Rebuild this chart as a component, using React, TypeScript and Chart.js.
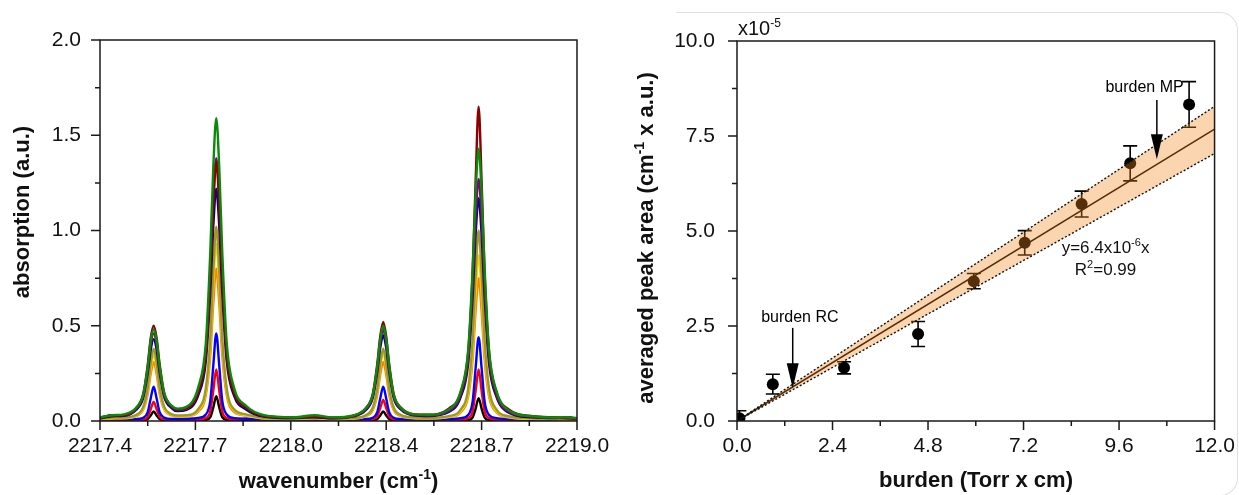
import React, { useEffect, useRef } from "react";
import { Chart, registerables } from "chart.js";

Chart.register(...registerables);

const FONT = '"Liberation Sans", Arial, Helvetica, sans-serif';

// ---------- Left panel: absorption spectra ----------
const wavenumbers = [
  2217.40, 2217.44, 2217.48, 2217.52, 2217.545, 2217.56, 2217.57, 2217.58, 2217.59, 2217.60,
  2217.615, 2217.64, 2217.66, 2217.69, 2217.73, 2217.755, 2217.77, 2217.78, 2217.79, 2217.80,
  2217.81, 2217.825, 2217.85, 2217.89, 2217.95, 2218.05, 2218.12, 2218.18, 2218.25, 2218.29,
  2218.315, 2218.33, 2218.34, 2218.35, 2218.36, 2218.37, 2218.385, 2218.41, 2218.45, 2218.50,
  2218.57, 2218.61, 2218.635, 2218.65, 2218.66, 2218.67, 2218.68, 2218.69, 2218.705, 2218.73,
  2218.77, 2218.85, 2218.93, 2218.97, 2219.00,
];

const absGreen = [
  0.02, 0.03, 0.035, 0.067, 0.14, 0.285, 0.42, 0.48, 0.422, 0.29,
  0.148, 0.081, 0.065, 0.074, 0.179, 0.41, 0.889, 1.33, 1.59, 1.33,
  0.889, 0.41, 0.173, 0.08, 0.031, 0.02, 0.03, 0.019, 0.029, 0.064,
  0.139, 0.289, 0.429, 0.50, 0.429, 0.289, 0.139, 0.068, 0.036, 0.033,
  0.06, 0.157, 0.372, 0.80, 1.20, 1.43, 1.20, 0.80, 0.372, 0.157,
  0.057, 0.025, 0.018, 0.02, 0.015,
];
const absDarkRed = [
  0.016, 0.03, 0.031, 0.066, 0.142, 0.292, 0.434, 0.50, 0.435, 0.298,
  0.149, 0.078, 0.06, 0.066, 0.154, 0.352, 0.76, 1.141, 1.36, 1.141,
  0.76, 0.352, 0.148, 0.07, 0.027, 0.018, 0.025, 0.017, 0.028, 0.064,
  0.142, 0.298, 0.444, 0.52, 0.444, 0.298, 0.142, 0.069, 0.036, 0.033,
  0.065, 0.15, 0.36, 0.78, 1.26, 1.65, 1.26, 0.78, 0.36, 0.15,
  0.062, 0.025, 0.019, 0.015, 0.012,
];
const absPurple = [
  0.016, 0.03, 0.03, 0.062, 0.133, 0.27, 0.40, 0.46, 0.402, 0.276,
  0.139, 0.075, 0.058, 0.065, 0.156, 0.357, 0.771, 1.157, 1.38, 1.157,
  0.771, 0.357, 0.15, 0.07, 0.027, 0.018, 0.025, 0.016, 0.026, 0.06,
  0.132, 0.276, 0.41, 0.48, 0.41, 0.276, 0.132, 0.064, 0.032, 0.029,
  0.052, 0.139, 0.33, 0.71, 1.066, 1.27, 1.066, 0.71, 0.33, 0.139,
  0.05, 0.022, 0.017, 0.014, 0.012,
];
const absNavy = [
  0.013, 0.025, 0.027, 0.057, 0.122, 0.252, 0.373, 0.43, 0.374, 0.256,
  0.128, 0.068, 0.052, 0.058, 0.137, 0.315, 0.681, 1.023, 1.22, 1.023,
  0.681, 0.315, 0.132, 0.06, 0.023, 0.015, 0.02, 0.014, 0.024, 0.055,
  0.122, 0.258, 0.384, 0.45, 0.384, 0.258, 0.122, 0.059, 0.03, 0.026,
  0.047, 0.127, 0.303, 0.654, 0.981, 1.17, 0.981, 0.654, 0.303, 0.127,
  0.045, 0.019, 0.015, 0.02, 0.01,
];
const absOlive = [
  0.012, 0.018, 0.018, 0.031, 0.074, 0.173, 0.302, 0.38, 0.303, 0.175,
  0.077, 0.036, 0.029, 0.03, 0.064, 0.173, 0.438, 0.785, 1.02, 0.785,
  0.438, 0.173, 0.061, 0.035, 0.016, 0.012, 0.018, 0.012, 0.016, 0.029,
  0.071, 0.17, 0.299, 0.38, 0.299, 0.17, 0.071, 0.031, 0.019, 0.017,
  0.026, 0.06, 0.17, 0.43, 0.77, 1.00, 0.77, 0.43, 0.17, 0.06,
  0.025, 0.014, 0.012, 0.012, 0.01,
];
const absYellow = [
  0.009, 0.015, 0.015, 0.028, 0.067, 0.158, 0.277, 0.35, 0.278, 0.16,
  0.07, 0.032, 0.025, 0.026, 0.057, 0.157, 0.399, 0.715, 0.93, 0.715,
  0.399, 0.157, 0.055, 0.03, 0.014, 0.01, 0.015, 0.009, 0.013, 0.026,
  0.066, 0.159, 0.282, 0.36, 0.282, 0.159, 0.066, 0.028, 0.016, 0.014,
  0.022, 0.052, 0.147, 0.373, 0.669, 0.87, 0.669, 0.373, 0.147, 0.052,
  0.021, 0.011, 0.01, 0.009, 0.008,
];
const absOrange = [
  0.009, 0.012, 0.014, 0.025, 0.06, 0.14, 0.246, 0.31, 0.247, 0.142,
  0.063, 0.029, 0.023, 0.024, 0.05, 0.136, 0.344, 0.616, 0.80, 0.616,
  0.344, 0.136, 0.048, 0.028, 0.013, 0.01, 0.013, 0.009, 0.013, 0.024,
  0.058, 0.138, 0.244, 0.31, 0.244, 0.138, 0.058, 0.025, 0.015, 0.013,
  0.02, 0.046, 0.128, 0.323, 0.578, 0.75, 0.578, 0.323, 0.128, 0.046,
  0.019, 0.011, 0.0095, 0.009, 0.008,
];
const absBlue = [
  0.006, 0.008, 0.008, 0.01, 0.017, 0.046, 0.118, 0.18, 0.118, 0.046,
  0.018, 0.011, 0.011, 0.012, 0.016, 0.034, 0.107, 0.291, 0.46, 0.291,
  0.107, 0.034, 0.015, 0.012, 0.007, 0.006, 0.008, 0.006, 0.008, 0.01,
  0.017, 0.046, 0.118, 0.18, 0.118, 0.046, 0.017, 0.01, 0.008, 0.006,
  0.01, 0.015, 0.032, 0.103, 0.279, 0.44, 0.279, 0.103, 0.032, 0.015,
  0.01, 0.006, 0.008, 0.018, 0.008,
];
const absRed = [
  0.005, 0.007, 0.005, 0.006, 0.009, 0.022, 0.062, 0.10, 0.062, 0.022,
  0.009, 0.006, 0.007, 0.006, 0.008, 0.016, 0.051, 0.159, 0.27, 0.159,
  0.051, 0.016, 0.008, 0.012, 0.005, 0.005, 0.007, 0.005, 0.005, 0.006,
  0.009, 0.024, 0.068, 0.11, 0.068, 0.024, 0.009, 0.006, 0.005, 0.005,
  0.005, 0.008, 0.016, 0.051, 0.159, 0.27, 0.159, 0.051, 0.016, 0.008,
  0.005, 0.005, 0.006, 0.007, 0.005,
];
const absBlack = [
  0.003, 0.003, 0.003, 0.003, 0.004, 0.01, 0.029, 0.05, 0.029, 0.01,
  0.004, 0.003, 0.003, 0.003, 0.003, 0.006, 0.02, 0.071, 0.13, 0.071,
  0.02, 0.006, 0.003, 0.003, 0.003, 0.003, 0.004, 0.003, 0.003, 0.003,
  0.004, 0.01, 0.029, 0.05, 0.029, 0.01, 0.004, 0.003, 0.003, 0.003,
  0.003, 0.003, 0.005, 0.019, 0.065, 0.12, 0.065, 0.019, 0.005, 0.003,
  0.003, 0.003, 0.003, 0.004, 0.003,
];

const spectraXTicks = [2217.4, 2217.72, 2218.04, 2218.36, 2218.68, 2219.0];
const spectraXTickLabels = ["2217.4", "2217.7", "2218.0", "2218.4", "2218.7", "2219.0"];
const spectraXMinor = [2217.56, 2217.88, 2218.2, 2218.52, 2218.84];
const spectraYTicks = [0, 0.5, 1.0, 1.5, 2.0];
const spectraYTickLabels = ["0.0", "0.5", "1.0", "1.5", "2.0"];
const spectraYMinor = [0.25, 0.75, 1.25, 1.75];

// ---------- Right panel: peak area vs burden ----------
const burden = [0.06, 0.90, 2.69, 4.55, 5.95, 7.23, 8.66, 9.88, 11.36];
const peakArea = [0.07, 0.97, 1.40, 2.29, 3.68, 4.69, 5.71, 6.78, 8.33];
const peakAreaErr = [0.20, 0.26, 0.16, 0.33, 0.20, 0.32, 0.34, 0.46, 0.60];
const fitX = [0, 12];
const fitY = [0, 7.68];
const bandUpperY = [0, 8.28];
const bandLowerY = [0, 7.04];

const burdenTicks = [0, 2.4, 4.8, 7.2, 9.6, 12.0];
const burdenTickLabels = ["0.0", "2.4", "4.8", "7.2", "9.6", "12.0"];
const burdenMinor = [1.2, 3.6, 6.0, 8.4, 10.8];
const areaTicks = [0, 2.5, 5.0, 7.5, 10.0];
const areaTickLabels = ["0.0", "2.5", "5.0", "7.5", "10.0"];
const areaMinor = [1.25, 3.75, 6.25, 8.75];

const arrowLabels = ["burden RC", "burden MP"];
const arrowX = [1.40, 10.55];
const arrowFromY = [2.45, 8.45];
const arrowToY = [0.86, 6.89];
const arrowLabelX = [1.58, 10.24];
const arrowLabelY = [2.71, 8.78];
const fitTextX = 9.26;
const fitTextY = [4.55, 3.95];

type Part = { t: string; sup?: boolean };

function drawRich(
  ctx: CanvasRenderingContext2D,
  parts: Part[],
  x: number,
  y: number,
  size: number,
  weight: string,
  opt: { rotate?: boolean; align?: "left" | "center" } = {}
) {
  const supSize = Math.round(size * 0.62);
  const font = (p: Part) => `${weight} ${p.sup ? supSize : size}px ${FONT}`;
  let total = 0;
  for (const p of parts) {
    ctx.font = font(p);
    total += ctx.measureText(p.t).width;
  }
  ctx.save();
  ctx.translate(x, y);
  if (opt.rotate) ctx.rotate(-Math.PI / 2);
  ctx.textAlign = "left";
  ctx.textBaseline = "alphabetic";
  let cx = opt.align === "left" ? 0 : -total / 2;
  const base = size * 0.27;
  for (const p of parts) {
    ctx.font = font(p);
    ctx.fillText(p.t, cx, p.sup ? base - size * 0.42 : base);
    cx += ctx.measureText(p.t).width;
  }
  ctx.restore();
}

function axisDecor(o: {
  xMajor: number[];
  xMinor: number[];
  yMajor: number[];
  yMinor: number[];
  xTitle: Part[];
  yTitle: Part[];
  xTitlePos: [number, number];
  yTitlePos: [number, number];
}) {
  return {
    id: "axisDecor",
    afterDatasetsDraw(chart: any) {
      const { ctx, chartArea: a } = chart;
      const xs = chart.scales.x;
      const ys = chart.scales.y;
      ctx.save();
      ctx.strokeStyle = "#1a1a1a";
      ctx.lineWidth = 1.5;
      ctx.strokeRect(a.left, a.top, a.right - a.left, a.bottom - a.top);
      ctx.beginPath();
      for (const v of o.xMajor) {
        const p = xs.getPixelForValue(v);
        ctx.moveTo(p, a.bottom);
        ctx.lineTo(p, a.bottom + 9);
      }
      for (const v of o.xMinor) {
        const p = xs.getPixelForValue(v);
        ctx.moveTo(p, a.bottom);
        ctx.lineTo(p, a.bottom + 5);
      }
      for (const v of o.yMajor) {
        const p = ys.getPixelForValue(v);
        ctx.moveTo(a.left, p);
        ctx.lineTo(a.left - 9, p);
      }
      for (const v of o.yMinor) {
        const p = ys.getPixelForValue(v);
        ctx.moveTo(a.left, p);
        ctx.lineTo(a.left - 5, p);
      }
      ctx.stroke();
      ctx.fillStyle = "#111";
      drawRich(ctx, o.xTitle, o.xTitlePos[0], o.xTitlePos[1], 22, "bold");
      drawRich(ctx, o.yTitle, o.yTitlePos[0], o.yTitlePos[1], 22, "bold", { rotate: true });
      ctx.restore();
    },
  };
}

function fixedTicks(values: number[], labels: string[], padding: number, size: number) {
  return {
    afterBuildTicks: (s: any) => {
      s.ticks = values.map((v) => ({ value: v }));
    },
    ticks: {
      autoSkip: false,
      maxRotation: 0,
      minRotation: 0,
      padding,
      color: "#111",
      font: { family: FONT, size },
      callback: (_v: any, i: number) => labels[i],
    },
    grid: { display: false, drawTicks: true, tickLength: 9 },
    border: { display: false },
  };
}

function spectraConfig(): any {
  const series = [
    { data: absGreen, color: "#0a8a0a" },
    { data: absDarkRed, color: "#8b0000" },
    { data: absPurple, color: "#800080" },
    { data: absNavy, color: "#000080" },
    { data: absOlive, color: "#9a9a26" },
    { data: absYellow, color: "#f2d800" },
    { data: absOrange, color: "#ff8000" },
    { data: absBlue, color: "#0000ff" },
    { data: absRed, color: "#ff0000" },
    { data: absBlack, color: "#000000" },
  ];
  return {
    type: "line",
    data: {
      datasets: series.map((s, i) => ({
        data: wavenumbers.map((x, j) => ({ x, y: s.data[j] })),
        borderColor: s.color,
        borderWidth: 2.4,
        pointRadius: 0,
        fill: false,
        cubicInterpolationMode: "monotone",
        order: i,
      })),
    },
    options: {
      animation: false,
      responsive: false,
      devicePixelRatio: 1,
      events: [],
      layout: { autoPadding: false, padding: { left: 0, top: 40, right: 43, bottom: 0 } },
      plugins: { legend: { display: false }, tooltip: { enabled: false } },
      scales: {
        x: {
          type: "linear",
          min: 2217.4,
          max: 2219.0,
          ...fixedTicks(spectraXTicks, spectraXTickLabels, 4, 21),
          afterFit: (s: any) => {
            s.height = 74;
          },
        },
        y: {
          type: "linear",
          min: 0,
          max: 2.0,
          ...fixedTicks(spectraYTicks, spectraYTickLabels, 10, 21),
          afterFit: (s: any) => {
            s.width = 100;
          },
        },
      },
    },
    plugins: [
      axisDecor({
        xMajor: spectraXTicks,
        xMinor: spectraXMinor,
        yMajor: spectraYTicks,
        yMinor: spectraYMinor,
        xTitle: [{ t: "wavenumber (cm" }, { t: "-1", sup: true }, { t: ")" }],
        yTitle: [{ t: "absorption (a.u.)" }],
        xTitlePos: [338.5, 482],
        yTitlePos: [23, 212],
      }),
    ],
  };
}

function burdenConfig(): any {
  const pts = (xs: number[], ys: number[]) => xs.map((x, i) => ({ x, y: ys[i] }));
  const extras = {
    id: "burdenExtras",
    beforeDatasetsDraw(chart: any) {
      const { ctx, chartArea: a } = chart;
      const xs = chart.scales.x;
      const ys = chart.scales.y;
      ctx.save();
      ctx.beginPath();
      ctx.rect(a.left, a.top, a.right - a.left, a.bottom - a.top);
      ctx.clip();
      ctx.strokeStyle = "#000";
      ctx.lineWidth = 1.6;
      burden.forEach((b, i) => {
        const px = xs.getPixelForValue(b);
        const top = ys.getPixelForValue(peakArea[i] + peakAreaErr[i]);
        const bot = ys.getPixelForValue(peakArea[i] - peakAreaErr[i]);
        ctx.beginPath();
        ctx.moveTo(px, top);
        ctx.lineTo(px, bot);
        ctx.moveTo(px - 7, top);
        ctx.lineTo(px + 7, top);
        ctx.moveTo(px - 7, bot);
        ctx.lineTo(px + 7, bot);
        ctx.stroke();
      });
      ctx.restore();
    },
    afterDatasetsDraw(chart: any) {
      const { ctx, chartArea: a } = chart;
      const xs = chart.scales.x;
      const ys = chart.scales.y;
      ctx.save();
      ctx.strokeStyle = "#000";
      ctx.fillStyle = "#000";
      arrowLabels.forEach((lab, i) => {
        const px = xs.getPixelForValue(arrowX[i]);
        const y0 = ys.getPixelForValue(arrowFromY[i]);
        const y1 = ys.getPixelForValue(arrowToY[i]);
        ctx.lineWidth = 1.5;
        ctx.beginPath();
        ctx.moveTo(px, y0);
        ctx.lineTo(px, y1 - 20);
        ctx.stroke();
        ctx.beginPath();
        ctx.moveTo(px - 6, y1 - 25);
        ctx.lineTo(px + 6, y1 - 25);
        ctx.lineTo(px, y1);
        ctx.closePath();
        ctx.fill();
        ctx.font = `16px ${FONT}`;
        ctx.textAlign = "center";
        ctx.textBaseline = "middle";
        ctx.fillText(lab, xs.getPixelForValue(arrowLabelX[i]), ys.getPixelForValue(arrowLabelY[i]));
      });
      ctx.fillStyle = "#111";
      drawRich(
        ctx,
        [{ t: "y=6.4x10" }, { t: "-6", sup: true }, { t: "x" }],
        xs.getPixelForValue(fitTextX),
        ys.getPixelForValue(fitTextY[0]),
        17,
        "normal"
      );
      drawRich(
        ctx,
        [{ t: "R" }, { t: "2", sup: true }, { t: "=0.99" }],
        xs.getPixelForValue(fitTextX),
        ys.getPixelForValue(fitTextY[1]),
        17,
        "normal"
      );
      drawRich(ctx, [{ t: "x10" }, { t: "-5", sup: true }], a.left + 1, 30, 20, "normal", {
        align: "left",
      });
      ctx.restore();
    },
  };
  const bandFill = "rgba(241,135,27,0.35)";
  return {
    type: "line",
    data: {
      datasets: [
        {
          data: pts(fitX, bandUpperY),
          borderColor: "rgba(0,0,0,0)",
          borderWidth: 1,
          pointRadius: 0,
          fill: "+1",
          backgroundColor: bandFill,
          order: 2,
        },
        {
          data: pts(fitX, bandLowerY),
          borderColor: "rgba(0,0,0,0)",
          borderWidth: 1,
          pointRadius: 0,
          fill: false,
          order: 2,
        },
        {
          data: pts(fitX, fitY),
          borderColor: "#000",
          borderWidth: 1.6,
          pointRadius: 0,
          fill: false,
          order: 3,
        },
        {
          data: pts(burden, peakArea),
          showLine: false,
          pointRadius: 6,
          pointBackgroundColor: "#000",
          pointBorderColor: "#000",
          pointBorderWidth: 0,
          order: 4,
        },
        {
          data: pts(fitX, bandUpperY),
          borderColor: "#111",
          borderWidth: 1.4,
          borderDash: [2, 2],
          pointRadius: 0,
          fill: false,
          order: 0,
        },
        {
          data: pts(fitX, bandLowerY),
          borderColor: "#111",
          borderWidth: 1.4,
          borderDash: [2, 2],
          pointRadius: 0,
          fill: false,
          order: 1,
        },
      ],
    },
    options: {
      animation: false,
      responsive: false,
      devicePixelRatio: 1,
      events: [],
      layout: { autoPadding: false, padding: { left: 0, top: 41, right: 24, bottom: 0 } },
      plugins: { legend: { display: false }, tooltip: { enabled: false } },
      scales: {
        x: {
          type: "linear",
          min: 0,
          max: 12,
          ...fixedTicks(burdenTicks, burdenTickLabels, 4, 21),
          afterFit: (s: any) => {
            s.height = 74;
          },
        },
        y: {
          type: "linear",
          min: 0,
          max: 10,
          ...fixedTicks(areaTicks, areaTickLabels, 13, 21),
          afterFit: (s: any) => {
            s.width = 117;
          },
        },
      },
    },
    plugins: [
      extras,
      axisDecor({
        xMajor: burdenTicks,
        xMinor: burdenMinor,
        yMajor: areaTicks,
        yMinor: areaMinor,
        xTitle: [{ t: "burden (Torr x cm)" }],
        yTitle: [{ t: "averaged peak area (cm" }, { t: "-1", sup: true }, { t: " x a.u.)" }],
        xTitlePos: [356, 481],
        yTitlePos: [27, 238],
      }),
    ],
  };
}

export default function App() {
  const leftRef = useRef<HTMLCanvasElement>(null);
  const rightRef = useRef<HTMLCanvasElement>(null);
  useEffect(() => {
    const left = new Chart(leftRef.current as HTMLCanvasElement, spectraConfig());
    const right = new Chart(rightRef.current as HTMLCanvasElement, burdenConfig());
    return () => {
      left.destroy();
      right.destroy();
    };
  }, []);
  return (
    <div
      style={{
        position: "absolute",
        left: 0,
        top: 0,
        width: 1239,
        height: 495,
        background: "#fff",
        overflow: "hidden",
      }}
    >
      <div
        style={{
          position: "absolute",
          left: 676,
          top: 12,
          width: 561,
          height: 482,
          borderTop: "1px solid #e0e0e0",
          borderRight: "1px solid #e0e0e0",
          borderBottom: "1px solid #e0e0e0",
          borderTopRightRadius: 18,
          borderBottomRightRadius: 18,
        }}
      />
      <canvas
        ref={leftRef}
        width={620}
        height={495}
        style={{ position: "absolute", left: 0, top: 0, width: 620, height: 495 }}
      />
      <canvas
        ref={rightRef}
        width={619}
        height={495}
        style={{ position: "absolute", left: 620, top: 0, width: 619, height: 495 }}
      />
    </div>
  );
}
